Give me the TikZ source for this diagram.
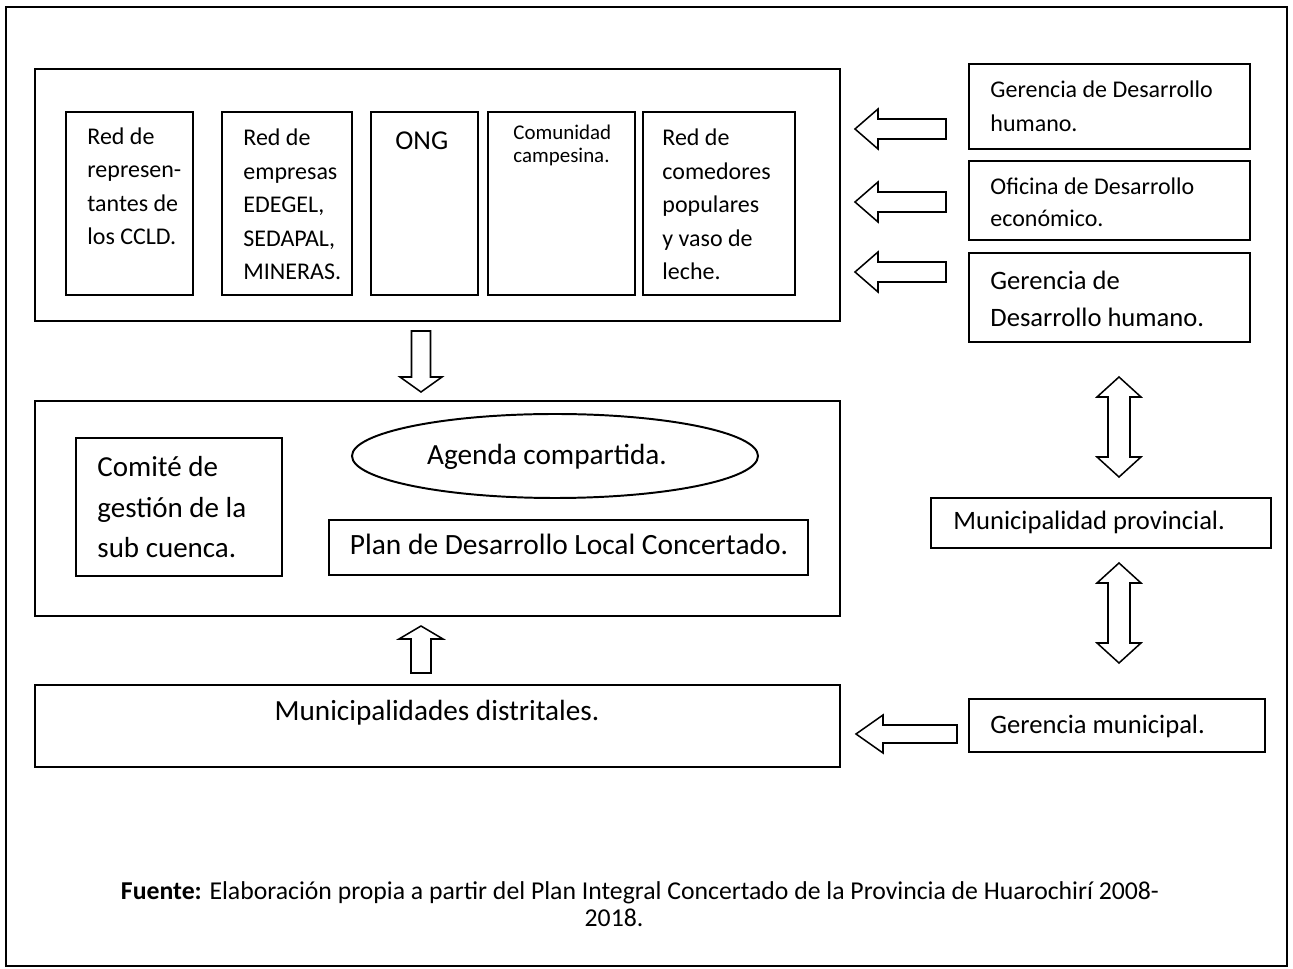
\documentclass[tikz,border=0pt]{standalone}
\usepackage{fontspec}
\setmainfont{Carlito}
\usetikzlibrary{shapes.geometric,fit,calc}
\tikzset{
  box/.style={draw=black, line width=0.9pt, inner sep=0pt},
  txt/.style={anchor=base west, inner sep=0pt, align=left},
  blk/.style={draw=black, line width=0.7pt, fill=white, line join=miter},
}
\begin{document}
\begin{tikzpicture}[x=0.4587pt, y=-0.4587pt]
\useasboundingbox (0,0) rectangle (1293,969);
% outer frame
\node[box, fit={(6,7) (1287,966)}] (frame) {};
% top group
\node[box, fit={(35,69) (840,321)}] (top) {};
\node[box, fit={(66,112) (193,295)}] (b1) {};
\node[box, fit={(222,112) (352,295)}] (b2) {};
\node[box, fit={(371,112) (478,295)}] (b3) {};
\node[box, fit={(488,112) (635,295)}] (b4) {};
\node[box, fit={(643,112) (795,295)}] (b5) {};
% (base anchor of a multi-line text = its last line)
\node[txt, font={\fontsize{11}{15.4}\selectfont}] at (87,245) {Red de\\represen-\\tantes de\\los CCLD.};
\node[txt, font={\fontsize{11}{15.4}\selectfont}] at (243,280) {Red de\\empresas\\EDEGEL,\\SEDAPAL,\\MINERAS.};
\node[txt, font={\fontsize{12.5}{15}\selectfont}] at (395,150) {ONG};
\node[txt, font={\fontsize{9.6}{10.8}\selectfont}] at (513,163) {Comunidad\\campesina.};
\node[txt, font={\fontsize{11}{15.4}\selectfont}] at (662,280) {Red de\\comedores\\populares\\y vaso de\\leche.};
% right boxes
\node[box, fit={(969,64) (1250,149)}] (r1) {};
\node[box, fit={(969,161) (1250,240)}] (r2) {};
\node[box, fit={(969,253) (1250,342)}] (r3) {};
\node[txt, font={\fontsize{11}{16}\selectfont}] at (990,132) {Gerencia de Desarrollo\\humano.};
\node[txt, font={\fontsize{11}{14.7}\selectfont}] at (990,227) {Oficina de Desarrollo\\económico.};
\node[txt, font={\fontsize{12.2}{17.4}\selectfont}] at (990,327) {Gerencia de\\Desarrollo humano.};
% left block arrows from the right boxes into the top group
\foreach \n/\yy in {a1/129,a2/202,a3/272}{
  \coordinate (\n) at (855,\yy);
  \draw[blk] (\n) -- ++(23,-20) -- ++(0,10) -- ++(68,0) -- ++(0,20) -- ++(-68,0) -- ++(0,10) -- cycle;
}
% middle group
\node[box, fit={(35,401) (840,616)}] (mid) {};
\node[box, fit={(76,438) (282,576)}] (com) {};
\node[txt, font={\fontsize{13.3}{18.6}\selectfont}] at (97,558) {Comité de\\gestión de la\\sub cuenca.};
\node[draw=black, line width=0.9pt, ellipse, minimum width=406*0.4587pt, minimum height=84*0.4587pt, inner sep=0pt] (ag) at (555,456) {};
\node[anchor=base, inner sep=0pt, font={\fontsize{13.4}{16}\selectfont}] at (547,465) {Agenda compartida.};
\node[box, fit={(329,520) (808,575)}] (plan) {};
\node[anchor=base, inner sep=0pt, font={\fontsize{13.5}{16}\selectfont}] at (569,555) {Plan de Desarrollo Local Concertado.};
% down arrow top -> mid
\coordinate (dn) at (421,392);
\draw[blk] (dn) -- ++(-21,-15) -- ++(11.5,0) -- ++(0,-46) -- ++(19,0) -- ++(0,46) -- ++(11.5,0) -- cycle;
% up arrow dist -> mid
\coordinate (up) at (421,626);
\draw[blk] (up) -- ++(-22,13) -- ++(12,0) -- ++(0,34) -- ++(20,0) -- ++(0,-34) -- ++(12,0) -- cycle;
% bottom
\node[box, fit={(35,685) (840,767)}] (dist) {};
\node[anchor=base, inner sep=0pt, font={\fontsize{13.4}{16}\selectfont}] at (437,721) {Municipalidades distritales.};
\node[box, fit={(931,498) (1271,548)}] (prov) {};
\node[anchor=base west, inner sep=0pt, font={\fontsize{12.2}{16}\selectfont}] at (953,530) {Municipalidad provincial.};
\node[box, fit={(969,699) (1265,752)}] (gm) {};
\node[anchor=base west, inner sep=0pt, font={\fontsize{12.2}{16}\selectfont}] at (990,734) {Gerencia municipal.};
% double vertical arrows
\foreach \n/\yy in {d1/377,d2/563}{
  \coordinate (\n) at (1119,\yy);
  \draw[blk] (\n) -- ++(22,20) -- ++(-11,0) -- ++(0,60) -- ++(11,0) -- ++(-22,20) -- ++(-22,-20) -- ++(11,0) -- ++(0,-60) -- ++(-11,0) -- cycle;
}
% left arrow gerencia municipal -> distritales
\coordinate (a4) at (856,734);
\draw[blk] (a4) -- ++(27,-19) -- ++(0,10) -- ++(74,0) -- ++(0,18) -- ++(-74,0) -- ++(0,10) -- cycle;
% caption
\node[anchor=base, inner sep=0pt, font={\fontsize{11.8}{14}\selectfont}] (cap1) at (640,900) {\textbf{Fuente:} Elaboración propia a partir del Plan Integral Concertado de la Provincia de Huarochirí 2008-};
\node[anchor=base, inner sep=0pt, font={\fontsize{11.8}{14}\selectfont}] (cap2) at (614,927) {2018.};
\end{tikzpicture}
\end{document}
